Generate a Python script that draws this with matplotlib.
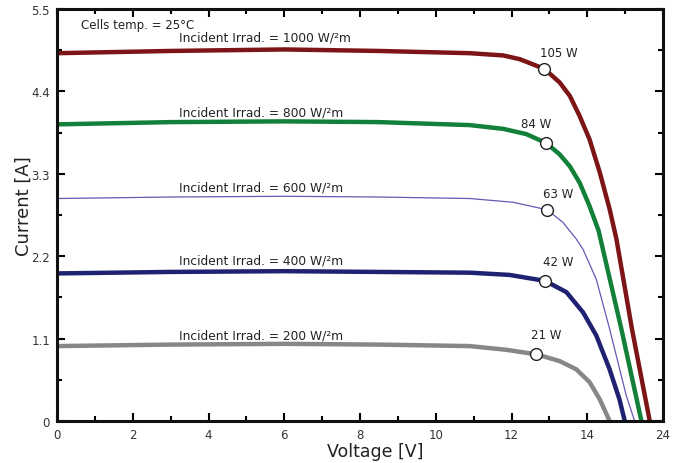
import matplotlib
matplotlib.use("Agg")
import matplotlib.pyplot as plt
from matplotlib.ticker import MultipleLocator, FixedLocator

# ---- data ----
v_1000 = [0, 3, 6, 8.5, 10.9, 11.78, 12.22, 12.52, 12.87, 13.27, 13.54, 13.8, 14.06, 14.33, 14.59, 14.77, 15.18, 15.65]
i_1000 = [4.91, 4.94, 4.96, 4.94, 4.91, 4.88, 4.83, 4.77, 4.70, 4.52, 4.34, 4.07, 3.76, 3.32, 2.83, 2.43, 1.23, 0]

v_800 = [0, 3, 6, 8.5, 10.9, 11.78, 12.39, 12.92, 13.27, 13.54, 13.8, 14.06, 14.3, 14.9, 15.43]
i_800 = [3.96, 3.99, 4.00, 3.99, 3.95, 3.90, 3.83, 3.71, 3.56, 3.40, 3.18, 2.87, 2.54, 1.23, 0]

v_600 = [0, 3, 6, 8.5, 10.9, 12.04, 12.94, 13.36, 13.71, 13.89, 14.24, 14.59, 15.03, 15.25]
i_600 = [2.97, 2.99, 3.00, 2.99, 2.97, 2.92, 2.82, 2.65, 2.43, 2.29, 1.89, 1.23, 0.34, 0]

v_400 = [0, 3, 6, 8.5, 10.9, 11.95, 12.89, 13.45, 13.89, 14.24, 14.59, 14.85, 14.99]
i_400 = [1.97, 1.99, 2.00, 1.99, 1.98, 1.95, 1.87, 1.72, 1.45, 1.14, 0.69, 0.29, 0]

v_200 = [0, 3, 6, 8.5, 10.9, 11.87, 12.66, 13.27, 13.71, 14.06, 14.33, 14.59]
i_200 = [1.00, 1.02, 1.03, 1.02, 1.00, 0.95, 0.89, 0.80, 0.69, 0.52, 0.29, 0]

irradiances = ["1000", "800", "600", "400", "200"]
irr_label_y = [5.12, 4.13, 3.12, 2.15, 1.15]
mpp_v = [12.87, 12.92, 12.94, 12.89, 12.66]
mpp_i = [4.70, 3.71, 2.82, 1.87, 0.89]
mpp_labels = ["105 W", "84 W", "63 W", "42 W", "21 W"]

x_ticks = [0, 2, 4, 6, 8, 10, 12, 14, 16]
x_tick_labels = ["0", "2", "4", "6", "8", "10", "12", "14", "24"]
y_ticks = [0, 1.1, 2.2, 3.3, 4.4, 5.5]
y_tick_labels = ["0", "1.1", "2.2", "3.3", "4.4", "5.5"]

# ---- styling ----
colors = ["#7d1416", "#138039", "#6b55b5", "#1f2270", "#878787"]
widths = [3.2, 3.2, 0.9, 3.2, 3.2]
label_offsets = [(10, 7.5), (-7, 9.5), (8, 7), (9, 9.5), (7, 9.5)]

plt.rcParams['font.family'] = ['DejaVu Sans']

fig = plt.figure(figsize=(6.83, 4.64), dpi=100)
ax = fig.add_axes([57 / 683, 42 / 464, 606 / 683, 412 / 464])

series = [(v_1000, i_1000), (v_800, i_800), (v_600, i_600), (v_400, i_400), (v_200, i_200)]
for (v, i), c, w in zip(series, colors, widths):
    ax.plot(v, i, color=c, lw=w, solid_capstyle='butt', solid_joinstyle='round', zorder=2)

ax.plot(mpp_v, mpp_i, 'o', ms=8.5, mfc='white', mec='#222222', mew=1.0, zorder=3, ls='none')
for vx, iy, lab, off in zip(mpp_v, mpp_i, mpp_labels, label_offsets):
    ax.annotate(lab, (vx, iy), xytext=off, textcoords='offset points',
                ha='center', va='bottom', fontsize=8.5, color='#222222')

for irr, yy in zip(irradiances, irr_label_y):
    ax.text(3.22, yy, "Incident Irrad. = %s W/\u00b2m" % irr, fontsize=8.8,
            ha='left', va='center', color='#222222')

ax.text(0.63, 5.29, "Cells temp. = 25\u00b0C", fontsize=8.5, ha='left', va='center', color='#222222')

ax.set_xlim(0, 16)
ax.set_ylim(0, 5.5)

ax.xaxis.set_major_locator(FixedLocator(x_ticks))
ax.set_xticklabels(x_tick_labels)
ax.xaxis.set_minor_locator(MultipleLocator(1))
ax.yaxis.set_major_locator(FixedLocator(y_ticks))
ax.set_yticklabels(y_tick_labels)
ax.yaxis.set_minor_locator(MultipleLocator(0.55))

ax.tick_params(which='major', direction='in', length=6, width=1.5, top=True, right=True,
               labelsize=8.5, labelcolor='#333333', pad=5)
ax.tick_params(which='minor', direction='in', length=3.5, width=1.5, top=True, right=True)

for s in ax.spines.values():
    s.set_linewidth(2.2)
    s.set_color('#111111')

ax.set_xlabel("Voltage [V]", fontsize=12.5, color='#222222')
ax.set_ylabel("Current [A]", fontsize=13, color='#222222')
ax.xaxis.set_label_coords(0.525, -0.05)
ax.yaxis.set_label_coords(-0.04, 0.524)

fig.savefig("out.png", dpi=100)
